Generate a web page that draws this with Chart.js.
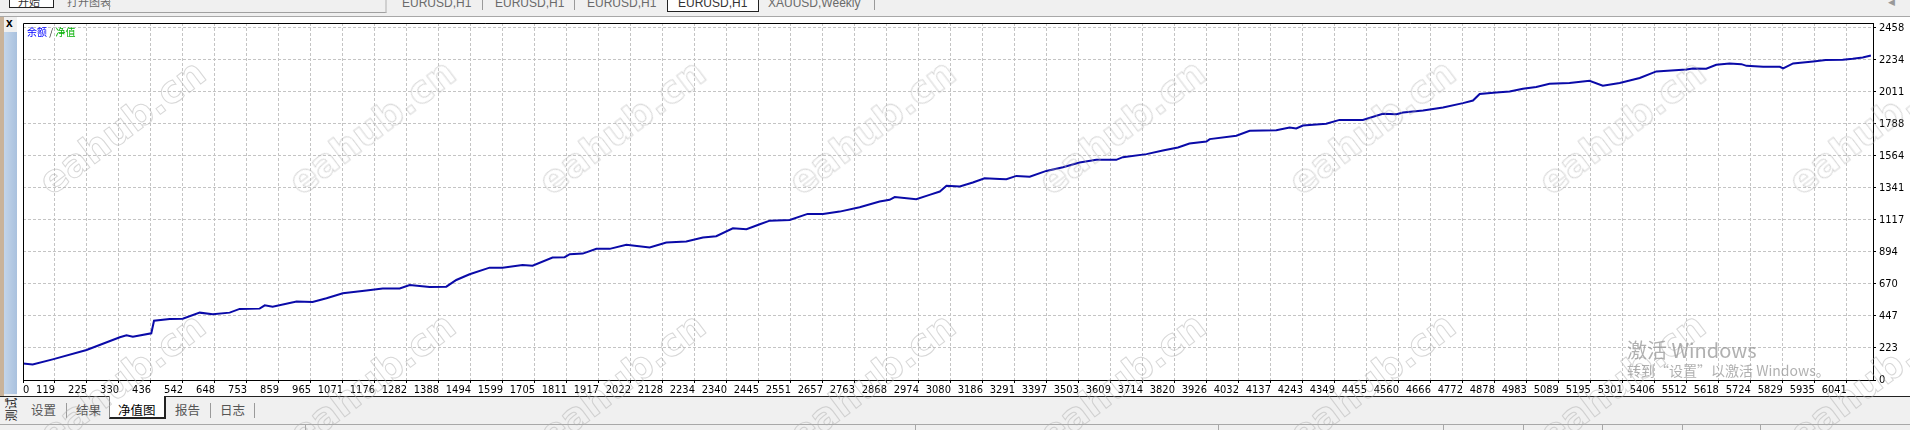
<!DOCTYPE html>
<html>
<head>
<meta charset="utf-8">
<script src="https://cdn.jsdelivr.net/npm/chart.js@4"></script>
<style>
  html,body{margin:0;padding:0;}
  body{width:1910px;height:430px;overflow:hidden;position:relative;background:#f0f0f0;font-family:"Liberation Sans",Arial,sans-serif;}
  .abs{position:absolute;}
  #pane{left:17px;top:17px;width:1893px;height:380px;background:#fff;}
  #topbar{left:0;top:0;width:1910px;height:16px;background:#f0f0f0;border-bottom:1px solid #a8a8a8;overflow:hidden;}
  .tab{position:absolute;top:-4px;font-size:12px;color:#6a6a6a;white-space:nowrap;}
  .sep{position:absolute;top:-2px;width:1px;height:12px;background:#9a9a9a;}
  #leftstrip{left:0;top:17px;width:4px;height:380px;background:#c9b39a;}
  #bluebar{left:4px;top:32px;width:13px;height:362px;background:linear-gradient(90deg,#c3d5ea,#a9c1de);}
  #xclose{left:6px;top:16px;font-size:12px;font-weight:bold;color:#000;}
  #canvasWrap{left:0;top:0;width:1910px;height:430px;}
  #bottombar{left:0;top:396px;width:1910px;height:28px;border-top:1px solid #222;background:#f0f0f0;}
  .btab{position:absolute;top:5px;font-size:12.5px;color:#555;font-family:"Noto Sans CJK SC",sans-serif;line-height:16px;}
  .bsep{position:absolute;top:6px;width:1px;height:15px;background:#9a9a9a;}
  #seltab{left:109px;top:-1px;width:54px;height:21px;background:#fff;border-left:1px solid #888;border-right:2px solid #222;border-bottom:2px solid #222;}
  #status{left:0;top:424px;width:1910px;height:6px;border-top:1px solid #a8a8a8;background:#f0f0f0;}
  .ssep{position:absolute;top:0;width:1px;height:6px;background:#a8a8a8;}
  #vtext{left:2px;top:398px;width:18px;height:22px;font-family:"Noto Sans CJK SC",sans-serif;font-size:12px;color:#222;}
  #vtext span{display:block;transform:rotate(-90deg);transform-origin:center;white-space:nowrap;position:absolute;left:-4px;top:3px;}
  #legendtxt{left:27px;top:26px;font-family:"Noto Sans CJK SC",sans-serif;font-size:10px;line-height:12px;white-space:nowrap;}
  .wm{position:absolute;font-family:"DejaVu Sans",sans-serif;font-size:38px;font-weight:bold;color:transparent;-webkit-text-stroke:1px rgba(175,175,175,0.5);white-space:nowrap;transform:translate(-50%,-50%) rotate(-37deg);pointer-events:none;}
  #win1{left:1627px;top:339px;font-family:"Noto Sans CJK SC",sans-serif;font-size:20px;color:rgba(150,150,150,0.75);white-space:nowrap;line-height:22px;}
  #win2{left:1627px;top:362px;font-family:"Noto Sans CJK SC",sans-serif;font-size:14px;color:rgba(150,150,150,0.75);white-space:nowrap;line-height:16px;}
</style>
</head>
<body>
<div id="pane" class="abs"></div>
<div id="topbar" class="abs">
  <div class="abs" style="left:0;top:-2px;width:385px;height:14px;border-bottom:1px solid #a0a0a0;border-right:2px solid #d0d0d0;"></div>
  <div class="abs" style="left:9px;top:-8px;width:43px;height:14px;background:#fff;border:1px solid #222;"></div>
  <div class="tab" style="left:18px;top:-7px;color:#333;font-family:'Noto Sans CJK SC';font-size:11px;">开始</div>
  <div class="tab" style="left:67px;top:-7px;font-family:'Noto Sans CJK SC';font-size:11px;">打开图表</div>
  <div class="sep" style="left:109px;"></div>
  <div class="tab" style="left:402px;">EURUSD,H1</div>
  <div class="sep" style="left:482px;"></div>
  <div class="tab" style="left:495px;">EURUSD,H1</div>
  <div class="sep" style="left:574px;"></div>
  <div class="tab" style="left:587px;">EURUSD,H1</div>
  <div class="abs" style="left:667px;top:-2px;width:90px;height:13px;background:#fff;border:1px solid #222;border-top:none;"></div>
  <div class="tab" style="left:678px;color:#333;">EURUSD,H1</div>
  <div class="tab" style="left:768px;">XAUUSD,Weekly</div>
  <div class="sep" style="left:874px;"></div>
  <div class="tab" style="left:1888px;top:-3px;font-size:9px;color:#999;">◀</div>
</div>
<div id="leftstrip" class="abs"></div>
<div id="bluebar" class="abs"></div>
<div id="xclose" class="abs">x</div>
<div id="canvasWrap" class="abs"><canvas id="c" width="1910" height="430"></canvas></div>
<div id="legendtxt" class="abs"><span style="color:#0000ff">余额</span><span style="color:#333"> / </span><span style="color:#00b000">净值</span></div>
<div id="bottombar" class="abs">
  <div class="btab" style="left:31px;">设置</div>
  <div class="bsep" style="left:66px;"></div>
  <div class="btab" style="left:76px;">结果</div>
  <div id="seltab" class="abs"></div>
  <div class="btab" style="left:118px;color:#000;">净值图</div>
  <div class="btab" style="left:175px;">报告</div>
  <div class="bsep" style="left:210px;"></div>
  <div class="btab" style="left:220px;">日志</div>
  <div class="bsep" style="left:254px;"></div>
</div>
<div id="status" class="abs">
  <div class="ssep" style="left:305px;"></div>
  <div class="ssep" style="left:915px;"></div>
  <div class="ssep" style="left:1218px;"></div>
  <div class="ssep" style="left:1443px;"></div>
  <div class="ssep" style="left:1523px;"></div>
  <div class="ssep" style="left:1602px;"></div>
  <div class="ssep" style="left:1682px;"></div>
  <div class="ssep" style="left:1760px;"></div>
</div>
<div id="vtext" class="abs"><span>测试</span></div>
<div id="wmLayer"></div>
<div id="win1" class="abs">激活 Windows</div>
<div id="win2" class="abs">转到“设置”以激活 Windows。</div>

<script>
// ---- data ----
const tradeNo = [0, 32, 98, 210, 320, 342, 363, 424, 433, 485, 528, 584, 627, 683, 716, 782, 799, 825, 904, 957,
  1003, 1057, 1135, 1189, 1245, 1278, 1344, 1399, 1432, 1476, 1542, 1585, 1651, 1684, 1750, 1790, 1807, 1850, 1895, 1939,
  1994, 2071, 2126, 2192, 2247, 2291, 2346, 2391, 2435, 2468, 2534, 2593, 2644, 2699, 2765, 2831, 2864, 2881, 2952, 2996,
  3030, 3052, 3096, 3139, 3178, 3228, 3250, 3283, 3327, 3382, 3437, 3492, 3547, 3613, 3635, 3713, 3767, 3817, 3855, 3911,
  3922, 4010, 4054, 4142, 4186, 4208, 4230, 4307, 4351, 4428, 4494, 4539, 4561, 4627, 4693, 4759, 4792, 4814, 4869, 4913,
  4957, 5001, 5045, 5111, 5177, 5221, 5277, 5343, 5398, 5497, 5519, 5563, 5596, 5640, 5679, 5696, 5751, 5806, 5817, 5850,
  5916, 5958, 6014, 6047, 6080, 6107];
const balance = [116, 108, 144, 209, 298, 312, 302, 326, 414, 426, 428, 470, 459, 470, 496, 498, 521, 512, 547, 545,
  570, 605, 624, 638, 638, 663, 649, 651, 698, 738, 784, 784, 803, 798, 854, 857, 878, 882, 915, 915,
  943, 924, 959, 966, 994, 1003, 1059, 1052, 1087, 1112, 1117, 1159, 1159, 1175, 1206, 1245, 1257, 1276, 1262, 1292,
  1315, 1355, 1350, 1378, 1408, 1403, 1401, 1424, 1419, 1459, 1485, 1517, 1536, 1536, 1555, 1576, 1601, 1622, 1650, 1664,
  1681, 1704, 1739, 1743, 1762, 1755, 1776, 1788, 1815, 1815, 1857, 1855, 1866, 1880, 1901, 1932, 1950, 1995, 2006, 2013,
  2032, 2044, 2067, 2072, 2088, 2053, 2072, 2107, 2153, 2167, 2174, 2172, 2200, 2209, 2204, 2192, 2185, 2185, 2174, 2209,
  2223, 2232, 2234, 2241, 2251, 2264];
const xTickLabels = ['0','119','225','330','436','542','648','753','859','965','1071','1176','1282','1388','1494','1599',
  '1705','1811','1917','2022','2128','2234','2340','2445','2551','2657','2763','2868','2974','3080','3186','3291','3397',
  '3503','3609','3714','3820','3926','4032','4137','4243','4349','4455','4560','4666','4772','4878','4983','5089','5195',
  '5301','5406','5512','5618','5724','5829','5935','6041'];
const yTickLabels = ['0','223','447','670','894','1117','1341','1564','1788','2011','2234','2458'];
const X_MAX = 6114, X_STEP = 105.75, Y_MAX = 2491, Y_STEP = 223.44;

// ---- watermarks ----
const wmXs = [122, 372, 622, 872, 1122, 1372, 1622, 1872];
const wmYs = [127, 380];
const wmLayer = document.getElementById('wmLayer');
wmYs.forEach(y => wmXs.forEach(x => {
  const d = document.createElement('div');
  d.className = 'wm'; d.textContent = 'eahub.cn';
  d.style.left = x + 'px'; d.style.top = y + 'px';
  wmLayer.appendChild(d);
}));

// ---- chart ----
const tickFont = {family: "'Liberation Sans Narrow','DejaVu Sans Condensed',sans-serif", size: 11};
const frame = {
  id: 'frame',
  afterDraw(chart) {
    const {ctx, chartArea: a} = chart;
    ctx.save();
    ctx.strokeStyle = '#000'; ctx.lineWidth = 1;
    ctx.beginPath();
    ctx.moveTo(a.left + 0.5, a.bottom); ctx.lineTo(a.left + 0.5, a.top + 0.5); ctx.lineTo(a.right, a.top + 0.5);
    ctx.stroke();
    ctx.restore();
  }
};

new Chart(document.getElementById('c'), {
  type: 'line',
  data: {
    datasets: [{
      data: tradeNo.map((t, i) => ({x: t, y: balance[i]})),
      borderColor: '#0a0aa8', borderWidth: 2, pointRadius: 0, tension: 0, fill: false
    }]
  },
  options: {
    animation: false, responsive: false, devicePixelRatio: 1,
    layout: {padding: {left: 23, top: 23, right: 0, bottom: 0}},
    plugins: {legend: {display: false}, tooltip: {enabled: false}},
    scales: {
      x: {
        type: 'linear', axis: 'x', position: 'bottom', weight: 1, min: 0, max: X_MAX,
        afterBuildTicks: s => { s.ticks = xTickLabels.map((l, i) => ({value: i * X_STEP})); },
        afterFit: s => { s.height = 50; },
        ticks: {align: 'end', autoSkip: false, maxRotation: 0, minRotation: 0, padding: 1, color: '#000', font: tickFont,
          callback: (v, i) => i === 0 ? '' : xTickLabels[i]},
        grid: {color: c => c.index === 0 ? 'rgba(0,0,0,0)' : '#c4c4c4', lineWidth: 1, tickLength: 3, tickColor: '#000', tickBorderDash: []},
        border: {display: true, color: '#000', width: 1, dash: [3, 2]}
      },
      x0: {
        type: 'linear', axis: 'x', position: 'bottom', weight: 0, min: 0, max: X_MAX,
        afterBuildTicks: s => { s.ticks = [{value: 0}]; },
        afterFit: s => { s.height = 0; },
        ticks: {align: 'start', mirror: true, autoSkip: false, maxRotation: 0, minRotation: 0, padding: -17, color: '#000', font: tickFont,
          callback: () => xTickLabels[0]},
        grid: {display: false, drawTicks: false},
        border: {display: false}
      },
      y: {
        position: 'right', min: 0, max: Y_MAX,
        afterBuildTicks: s => { s.ticks = yTickLabels.map((l, i) => ({value: i * Y_STEP})); },
        afterFit: s => { s.width = 37; },
        ticks: {autoSkip: false, padding: 3, color: '#000', font: tickFont, callback: (v, i) => yTickLabels[i]},
        grid: {color: c => c.index === 0 ? 'rgba(0,0,0,0)' : '#c4c4c4', lineWidth: 1, tickLength: 3, tickColor: '#000', tickBorderDash: []},
        border: {display: true, color: '#000', width: 1, dash: [3, 2]}
      }
    }
  },
  plugins: [frame]
});
</script>
</body>
</html>
